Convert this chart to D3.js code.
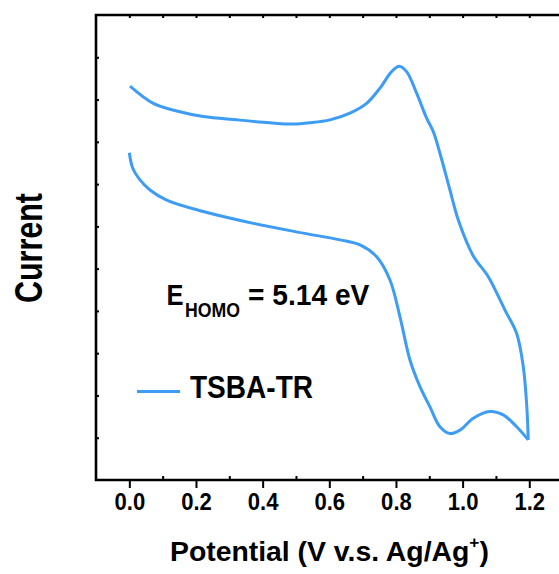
<!DOCTYPE html>
<meta charset="utf-8">
<style>
	body { margin: 0; background: #fff; }
	text {
		font-family: "Liberation Sans", Arial, sans-serif;
		font-weight: bold;
		fill: #000;
	}
	.frame { fill: none; stroke: #000; stroke-width: 2.6px; }
	.axis path { display: none; }
	.axis line { stroke: #000; stroke-width: 2px; }
	.cv { fill: none; stroke: #3d9cf4; stroke-width: 3px; stroke-linejoin: round; }
</style>
<body>
<div id="chart"></div>
<script src="https://d3js.org/d3.v7.min.js"></script>
<script>
	// forward scan 0 -> 1.2 V (lower branch)
	var potential_fwd = [0.000, 0.010, 0.032, 0.062, 0.112, 0.222, 0.372, 0.522, 0.632, 0.692, 0.742, 0.782, 0.812, 0.842, 0.872, 0.902, 0.932, 0.962, 0.992, 1.032, 1.082, 1.122, 1.162, 1.197];
	var current_fwd   = [7.74, 7.38, 7.10, 6.86, 6.62, 6.35, 6.07, 5.84, 5.68, 5.56, 5.28, 4.73, 3.86, 2.84, 2.21, 1.73, 1.26, 1.10, 1.18, 1.46, 1.62, 1.54, 1.26, 0.95];

	// reverse scan 1.2 -> 0 V (upper branch)
	var potential_rev = [1.197, 1.192, 1.182, 1.162, 1.127, 1.077, 1.032, 0.987, 0.962, 0.932, 0.912, 0.892, 0.862, 0.832, 0.810, 0.787, 0.752, 0.712, 0.662, 0.602, 0.542, 0.492, 0.422, 0.322, 0.222, 0.142, 0.072, 0.002];
	var current_rev   = [0.95, 1.81, 2.68, 3.47, 4.02, 4.81, 5.30, 6.15, 6.86, 7.73, 8.24, 8.56, 9.15, 9.66, 9.79, 9.66, 9.27, 8.91, 8.68, 8.52, 8.45, 8.42, 8.45, 8.52, 8.60, 8.73, 8.91, 9.32];

	var x_major = [0.0, 0.2, 0.4, 0.6, 0.8, 1.0, 1.2];
	var x_minor = [0.1, 0.3, 0.5, 0.7, 0.9, 1.1];
	var x_top = [0.0, 0.1, 0.2, 0.3, 0.4, 0.5, 0.6, 0.7, 0.8, 0.9, 1.0, 1.1, 1.2];
	var y_ticks = [1, 2, 3, 4, 5, 6, 7, 8, 9, 10];

	var series_name = "TSBA-TR";
	var homo_value = "= 5.14 eV";

	var W = 559, H = 574;
	var x = d3.scaleLinear().domain([-0.1, 1.3]).range([96, 562.6]);
	var y = d3.scaleLinear().domain([0, 11]).range([480, 15]);

	var svg = d3.select("#chart").append("svg")
		.attr("width", W)
		.attr("height", H);

	// squeeze a text (placed at 0,0) into a target width
	function fit(g, node, w) {
		var bw = node.getBBox().width;
		var k = w / bw;
		var t = g.attr("transform") || "";
		g.attr("transform", t + " scale(" + k + ",1)");
	}

	// curves
	var line = d3.line()
		.x(function (d) { return x(d[0]); })
		.y(function (d) { return y(d[1]); })
		.curve(d3.curveCatmullRom.alpha(0.5));

	svg.append("path").attr("class", "cv")
		.attr("d", line(d3.zip(potential_fwd, current_fwd)));
	svg.append("path").attr("class", "cv")
		.attr("d", line(d3.zip(potential_rev, current_rev)));

	// bottom axis, major ticks outward
	var xb = svg.append("g").attr("class", "axis")
		.attr("transform", "translate(0,480)")
		.call(d3.axisBottom(x).tickValues(x_major).tickSize(8).tickFormat(d3.format(".1f")));
	xb.selectAll("text")
		.attr("y", 30).attr("dy", null)
		.style("font-size", "24px")
		.attr("transform", "scale(0.92,1)");

	// bottom minor ticks inward
	svg.append("g").attr("class", "axis")
		.attr("transform", "translate(0,480)")
		.call(d3.axisBottom(x).tickValues(x_minor).tickSize(-4).tickFormat(""));

	// top ticks inward
	svg.append("g").attr("class", "axis")
		.attr("transform", "translate(0,15)")
		.call(d3.axisTop(x).tickValues(x_top).tickSize(-3).tickFormat(""));

	// left ticks inward, no labels
	svg.append("g").attr("class", "axis")
		.attr("transform", "translate(96,0)")
		.call(d3.axisLeft(y).tickValues(y_ticks).tickSize(-3).tickFormat(""));

	// frame
	svg.append("path").attr("class", "frame")
		.attr("d", "M" + x(1.3) + "," + y(0) + "H" + x(-0.1) + "V" + y(11) + "H" + x(1.3));

	// y title
	var gy = svg.append("g").attr("transform", "translate(42,248) rotate(-90)");
	var ty = gy.append("text").attr("text-anchor", "middle")
		.style("font-size", "39px").text("Current");
	fit(gy, ty.node(), 110);

	// x title
	var gx = svg.append("g").attr("transform", "translate(170,561)");
	var tx = gx.append("text").style("font-size", "28px");
	tx.append("tspan").text("Potential (V v.s. Ag/Ag");
	tx.append("tspan").attr("dy", -13).style("font-size", "17px").text("+");
	tx.append("tspan").attr("dy", 13).text(")");
	fit(gx, tx.node(), 319);

	// E_HOMO annotation
	var ge = svg.append("g").attr("transform", "translate(166.5,305)");
	var te = ge.append("text").style("font-size", "29px").text("E");
	fit(ge, te.node(), 17);
	var gs = svg.append("g").attr("transform", "translate(185,316.5)");
	var ts = gs.append("text").style("font-size", "21px").text("HOMO");
	fit(gs, ts.node(), 55);
	var gv = svg.append("g").attr("transform", "translate(248,305)");
	var tv = gv.append("text").style("font-size", "29px").text(homo_value);
	fit(gv, tv.node(), 122);

	// legend
	svg.append("line").attr("class", "cv")
		.attr("x1", 137).attr("x2", 180)
		.attr("y1", 391.5).attr("y2", 391.5);
	var gl = svg.append("g").attr("transform", "translate(190,398)");
	var tl = gl.append("text").style("font-size", "32px").text(series_name);
	fit(gl, tl.node(), 123);
</script>
</body>
